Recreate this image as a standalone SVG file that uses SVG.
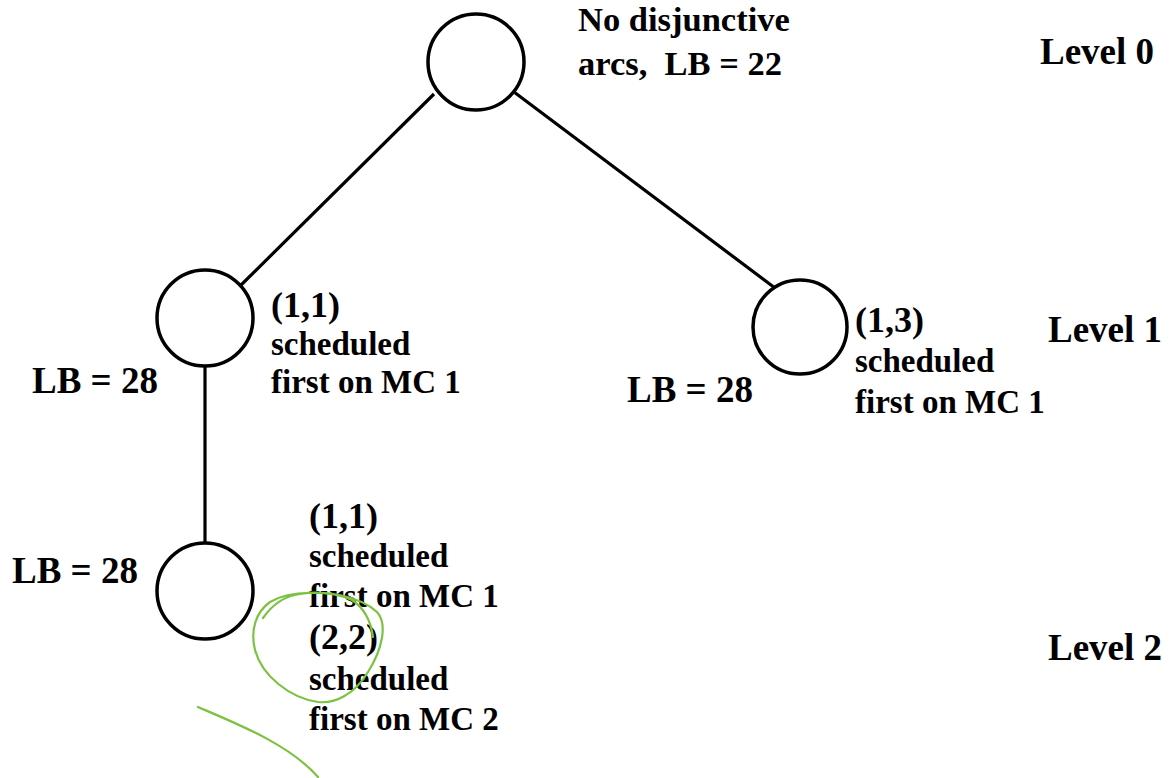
<svg xmlns="http://www.w3.org/2000/svg" width="1173" height="778" viewBox="0 0 1173 778">
  <style>
    .node { fill: #ffffff; stroke: #000000; stroke-width: 3.5; }
    .edge { fill: none; stroke: #000000; stroke-width: 3.2; }
    .lbl { font-family: "Liberation Serif", "Times New Roman", serif; font-weight: bold; font-size: 33px; fill: #000000; }
    .top { font-size: 34.5px; }
    .op { font-size: 36px; }
    .big { font-size: 37px; }
    .ink { fill: none; stroke: #7cc242; stroke-width: 2.2; stroke-linecap: round; stroke-linejoin: round; }
  </style>
  <rect width="1173" height="778" fill="#ffffff"/>

  <!-- tree edges -->
  <g id="connectors">
    <path class="edge" d="M 434 94 L 235 291 M 231 287 L 239 295"/>
    <path class="edge" d="M 514 92 L 779 291 M 775 295 L 783 287"/>
    <path class="edge" d="M 205 366 L 205 543"/>
  </g>

  <!-- root: no disjunctive arcs -->
  <g id="root">
    <circle class="node" cx="476" cy="62" r="48"/>
    <text class="lbl top" x="578" y="31">No disjunctive</text>
    <text class="lbl top" x="578" y="75" xml:space="preserve">arcs,  LB = 22</text>
  </g>

  <!-- level 1, left branch -->
  <g id="n11">
    <circle class="node" cx="205" cy="318" r="48"/>
    <text class="lbl op" x="271" y="317">(1,1)</text>
    <text class="lbl" x="271" y="355">scheduled</text>
    <text class="lbl" x="271" y="393">first on MC 1</text>
    <text class="lbl big" x="32" y="393">LB = 28</text>
  </g>

  <!-- level 1, right branch -->
  <g id="n13">
    <circle class="node" cx="800" cy="327" r="47"/>
    <text class="lbl op" x="855" y="332">(1,3)</text>
    <text class="lbl" x="855" y="372">scheduled</text>
    <text class="lbl" x="855" y="413">first on MC 1</text>
    <text class="lbl big" x="627" y="402">LB = 28</text>
  </g>

  <!-- level 2 -->
  <g id="n22">
    <circle class="node" cx="205" cy="591" r="48"/>
    <text class="lbl op" x="309" y="528">(1,1)</text>
    <text class="lbl" x="309" y="567">scheduled</text>
    <text class="lbl" x="309" y="607">first on MC 1</text>
    <text class="lbl op" x="309" y="649">(2,2)</text>
    <text class="lbl" x="309" y="690">scheduled</text>
    <text class="lbl" x="309" y="730">first on MC 2</text>
    <text class="lbl big" x="12" y="583">LB = 28</text>
  </g>

  <!-- level captions -->
  <g id="levels">
    <text class="lbl big" x="1040" y="64">Level 0</text>
    <text class="lbl big" x="1048" y="342">Level 1</text>
    <text class="lbl big" x="1048" y="660">Level 2</text>
  </g>

  <!-- hand-drawn green marks -->
  <g id="ink">
    <path class="ink" d="M 263 618 C 272 605 285 596 300 594 C 325 590 360 596 377 612 C 388 624 382 650 368 672 C 355 694 335 704 318 702 C 290 698 262 676 255 650 C 250 630 256 612 270 602 C 290 590 330 590 352 600 C 364 608 371 622 373 637"/>
    <path class="ink" d="M 198 707 C 240 725 290 745 318 777"/>
  </g>
</svg>
